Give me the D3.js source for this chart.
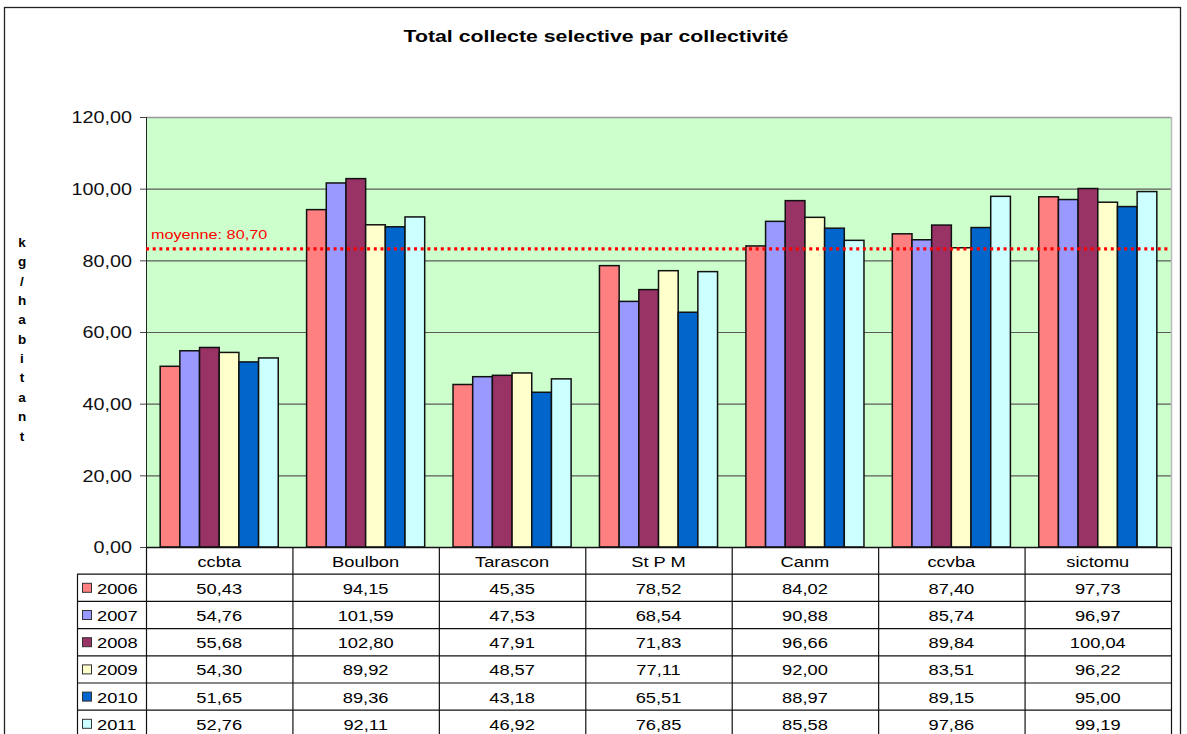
<!DOCTYPE html>
<html><head><meta charset="utf-8">
<script src="https://cdn.jsdelivr.net/npm/d3@7"></script>
<style>body{margin:0;background:#fff}svg{display:block;font-family:"Liberation Sans",Arial,sans-serif}</style>
</head><body><svg id="c" width="1187" height="734"></svg>
<script>
const categories = ["ccbta","Boulbon","Tarascon","St P M","Canm","ccvba","sictomu"];
const years = ["2006","2007","2008","2009","2010","2011"];
const v2006 = [50.43,94.15,45.35,78.52,84.02,87.40,97.73];
const v2007 = [54.76,101.59,47.53,68.54,90.88,85.74,96.97];
const v2008 = [55.68,102.80,47.91,71.83,96.66,89.84,100.04];
const v2009 = [54.30,89.92,48.57,77.11,92.00,83.51,96.22];
const v2010 = [51.65,89.36,43.18,65.51,88.97,89.15,95.00];
const v2011 = [52.76,92.11,46.92,76.85,85.58,97.86,99.19];
const yTicks = [0,20,40,60,80,100,120];
const colors = ["#FF8080","#9999FF","#993366","#FFFFCC","#0066CC","#CCFFFF"];
const moyenneLabel = "moyenne: 80,70";
const moyenneLevel = 83.2;
const series = [v2006,v2007,v2008,v2009,v2010,v2011];

const svg = d3.select("#c");
const fmt = v => d3.format(".2f")(v).replace(".", ",");
const L = 146, R = 1171, T = 117, B = 547;
const x = d3.scaleBand().domain(categories).range([L, R]).padding(0);
const xi = d3.scaleBand().domain(years).range([0, x.bandwidth()]).paddingInner(0).paddingOuter(0.72);
const y = d3.scaleLinear().domain([0,120]).range([B, T]);
const SX = 1.18;

function txt(g, px, py, s, size, sx, anchor){
  return g.append("text").attr("transform",`translate(${px},${py}) scale(${sx},1)`)
    .attr("text-anchor",anchor||"start").attr("font-size",size).text(s);
}

// outer border
svg.append("rect").attr("x",4.5).attr("y",7.5).attr("width",1176).attr("height",740)
  .attr("fill","none").attr("stroke","#222").attr("stroke-width",1.3);

txt(svg, 596, 42, "Total collecte selective par collectivité", 16, 1.33, "middle").attr("font-weight","bold");

// plot bg
svg.append("rect").attr("x",L).attr("y",T).attr("width",R-L).attr("height",B-T).attr("fill","#CCFFCC");
// grid
svg.append("g").selectAll("line").data(yTicks.filter(t=>t>0 && t<120)).join("line")
  .attr("x1",L).attr("x2",R).attr("y1",d=>y(d)+0.5).attr("y2",d=>y(d)+0.5)
  .attr("stroke","#5a5a5a").attr("stroke-width",1.2);
svg.append("line").attr("x1",L).attr("x2",R).attr("y1",T+0.5).attr("y2",T+0.5).attr("stroke","#999").attr("stroke-width",1.5);
svg.append("line").attr("x1",R+0.5).attr("x2",R+0.5).attr("y1",T).attr("y2",B).attr("stroke","#bbb").attr("stroke-width",1.5);

// y axis
const yAxis = d3.axisLeft(y).tickValues(yTicks).tickSize(6).tickFormat(fmt);
const ga = svg.append("g").attr("transform",`translate(${L},0)`).call(yAxis);
ga.select(".domain").attr("stroke","#222");
ga.selectAll(".tick line").attr("stroke","#444");
ga.selectAll(".tick text").attr("font-size",16.5).attr("fill","#111").attr("x",-14/1.2).attr("dy","0.36em")
  .attr("transform","scale(1.2,1)")
  .style("font-family","'Liberation Sans',Arial,sans-serif");

// y title vertical letters
const letters = "kg/habitant".split("");
svg.append("g").selectAll("text").data(letters).join("text")
  .attr("x",22).attr("y",(d,i)=>247+i*19.35).attr("text-anchor","middle")
  .attr("font-weight","bold").attr("font-size",13.5).text(d=>d);

// bars
const groups = svg.append("g").selectAll("g").data(categories).join("g")
  .attr("transform",d=>`translate(${x(d)},0)`);
groups.selectAll("rect").data((c,ci)=>years.map((yr,si)=>({yr,si,v:series[si][ci]}))).join("rect")
  .attr("x",d=>xi(d.yr)).attr("width",xi.bandwidth())
  .attr("y",d=>y(d.v)).attr("height",d=>y(0)-y(d.v))
  .attr("fill",d=>colors[d.si]).attr("stroke","#111").attr("stroke-width",1.5);

// moyenne line
svg.append("line").attr("x1",L).attr("x2",R).attr("y1",y(moyenneLevel)).attr("y2",y(moyenneLevel))
  .attr("stroke","#FF0000").attr("stroke-width",3.2).attr("stroke-dasharray","3,3.7");
txt(svg, 151, y(moyenneLevel)-10, moyenneLabel, 13.5, 1.2).attr("fill","#FF0000");

// table
const rowH = 27.2, tblTop = B, legL = 77;
const tg = svg.append("g");
categories.forEach(c=>{
  txt(tg, x(c)+x.bandwidth()/2, tblTop+rowH/2+6, c, 15.5, SX, "middle");
});
for (let r=1;r<=7;r++){
  tg.append("line").attr("x1",legL).attr("x2",R).attr("y1",tblTop+r*rowH).attr("y2",tblTop+r*rowH)
    .attr("stroke","#111").attr("stroke-width",1.2);
}
tg.append("line").attr("x1",L).attr("x2",R).attr("y1",tblTop+0.5).attr("y2",tblTop+0.5).attr("stroke","#111").attr("stroke-width",1.3);
categories.forEach((c,i)=>{
  tg.append("line").attr("x1",x(c)+0.5).attr("x2",x(c)+0.5).attr("y1",tblTop).attr("y2",734)
    .attr("stroke","#111").attr("stroke-width",1.2);
});
tg.append("line").attr("x1",R+0.5).attr("x2",R+0.5).attr("y1",tblTop).attr("y2",734).attr("stroke","#111").attr("stroke-width",1.2);
tg.append("line").attr("x1",legL+0.5).attr("x2",legL+0.5).attr("y1",tblTop+rowH).attr("y2",734).attr("stroke","#111").attr("stroke-width",1.2);
years.forEach((yr,si)=>{
  const ry = tblTop+(si+1)*rowH;
  tg.append("rect").attr("x",82.5).attr("y",ry+rowH/2-4.5).attr("width",9).attr("height",9)
    .attr("fill",colors[si]).attr("stroke","#333").attr("stroke-width",1);
  txt(tg, 97, ry+rowH/2+6, yr, 15.5, SX);
  categories.forEach((c,ci)=>{
    txt(tg, x(c)+x.bandwidth()/2, ry+rowH/2+6, fmt(series[si][ci]), 15.5, SX, "middle");
  });
});
</script></body></html>
